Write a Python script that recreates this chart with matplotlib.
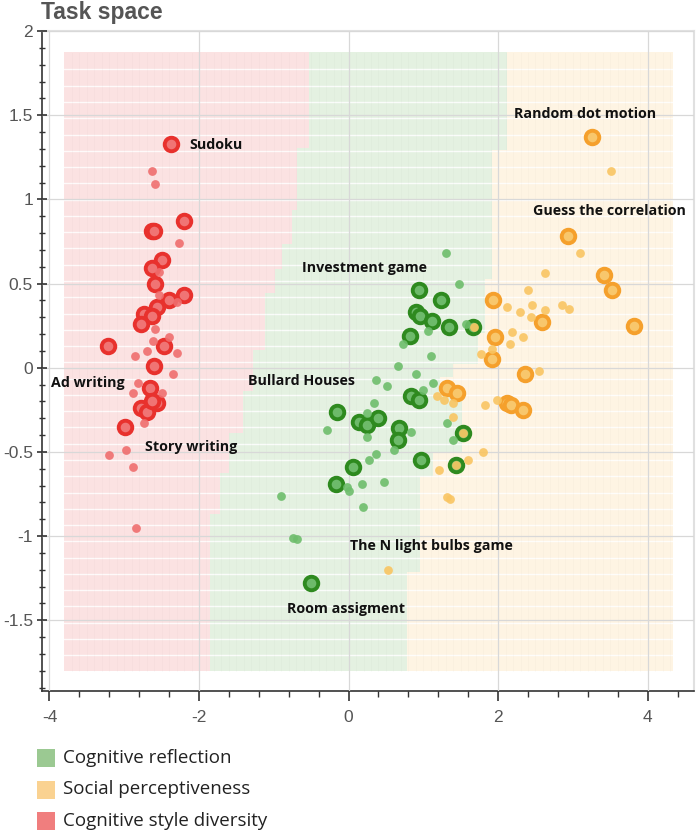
"""Task space scatter over a classification map, three task groups."""

import matplotlib

matplotlib.use("Agg")

import matplotlib.pyplot as plt
import numpy as np
from matplotlib.colors import ListedColormap
from matplotlib.patches import Rectangle
from matplotlib.ticker import FuncFormatter, MultipleLocator

plt.rcParams["axes.unicode_minus"] = False

# --- tasks (big ring markers) and tasks (small dots), by group -------------
RED_BIG_X = [-2.37, -2.20, -2.63, -2.60, -2.50, -2.63, -2.59, -2.20, -2.40, -2.56, -2.73,
             -2.63, -2.77, -3.22, -2.47, -2.60, -2.66, -2.77, -2.70, -2.56, -2.63, -2.99]
RED_BIG_Y = [1.33, 0.87, 0.81, 0.81, 0.64, 0.59, 0.50, 0.43, 0.40, 0.36, 0.32,
             0.31, 0.26, 0.13, 0.13, 0.01, -0.12, -0.24, -0.26, -0.21, -0.20, -0.35]
RED_SMALL_X = [-2.63, -2.59, -2.27, -2.53, -2.54, -2.30, -2.59, -2.40, -2.62, -2.70, -2.29,
               -2.86, -2.35, -2.81, -2.50, -2.88, -2.74, -2.98, -3.21, -2.88, -2.84]
RED_SMALL_Y = [1.17, 1.09, 0.74, 0.57, 0.43, 0.39, 0.23, 0.18, 0.16, 0.10, 0.09,
               0.07, -0.04, -0.09, -0.15, -0.15, -0.33, -0.49, -0.52, -0.59, -0.95]

GREEN_BIG_X = [0.94, 1.24, 0.90, 0.96, 1.12, 1.34, 1.67, 0.82, 0.84, 0.94, -0.16,
               0.14, 0.25, 0.39, 0.68, 0.66, 1.53, 0.97, 0.06, 1.44, -0.17, -0.50]
GREEN_BIG_Y = [0.46, 0.40, 0.33, 0.31, 0.28, 0.24, 0.24, 0.19, -0.17, -0.19, -0.26,
               -0.32, -0.34, -0.30, -0.36, -0.43, -0.39, -0.55, -0.59, -0.58, -0.69, -1.28]
GREEN_SMALL_X = [1.30, 1.48, 1.06, 1.57, 0.73, 1.10, 0.66, 0.90, 0.37, 0.52, 1.13, 1.00,
                 0.34, 0.25, 1.32, -0.29, 0.84, 0.25, 1.40, 0.37, 0.61, 0.27, 0.47, 0.18,
                 -0.02, 0.01, -0.90, 0.19, -0.74, -0.69]
GREEN_SMALL_Y = [0.68, 0.50, 0.22, 0.26, 0.14, 0.07, 0.01, -0.04, -0.07, -0.11, -0.09, -0.13,
                 -0.21, -0.27, -0.33, -0.37, -0.38, -0.41, -0.43, -0.51, -0.49, -0.55, -0.68,
                 -0.69, -0.71, -0.73, -0.76, -0.83, -1.01, -1.02]

ORANGE_BIG_X = [3.26, 2.93, 3.42, 3.52, 1.93, 2.59, 3.82, 1.96, 1.92, 2.36, 1.32, 1.45,
                2.12, 2.17, 2.33]
ORANGE_BIG_Y = [1.37, 0.78, 0.55, 0.46, 0.40, 0.27, 0.25, 0.18, 0.05, -0.04, -0.12, -0.15,
                -0.21, -0.22, -0.25]
ORANGE_SMALL_X = [3.51, 3.10, 2.63, 2.40, 2.12, 2.29, 2.45, 2.63, 2.86, 2.95, 2.44, 2.18,
                  2.33, 2.16, 1.92, 1.77, 2.55, 1.18, 1.27, 1.40, 1.40, 1.98, 1.83, 1.80,
                  1.60, 1.21, 1.32, 1.36, 0.53, 1.68, 1.53, 1.44]
ORANGE_SMALL_Y = [1.17, 0.68, 0.56, 0.46, 0.36, 0.33, 0.37, 0.34, 0.37, 0.35, 0.30, 0.21,
                  0.18, 0.14, 0.11, 0.08, -0.02, -0.17, -0.19, -0.21, -0.29, -0.19, -0.22,
                  -0.50, -0.55, -0.61, -0.77, -0.78, -1.20, 0.24, -0.39, -0.58]

# --- labelled tasks ---------------------------------------------------------
LABELS = ["Sudoku", "Random dot motion", "Guess the correlation", "Investment game",
          "Ad writing", "Bullard Houses", "Story writing", "The N light bulbs game",
          "Room assigment"]
LABEL_X = [-2.13, 2.21, 2.47, -0.62, -3.98, -1.35, -2.72, 0.02, -0.82]
LABEL_Y = [1.32, 1.51, 0.93, 0.59, -0.09, -0.08, -0.47, -1.06, -1.43]

# --- background decision regions (band lower edge -> boundary x) ------------
BG_EXTENT = [-3.80, 4.34, -1.804, 1.868]
RG_Y_LOW = [1.30, 0.93, 0.73, 0.58, 0.44, 0.10, -0.14, -0.39, -0.63, -0.87, -1.90]
RG_X = [-0.52, -0.68, -0.75, -0.88, -0.98, -1.12, -1.27, -1.41, -1.59, -1.72, -1.85]
GO_Y_LOW = [1.29, 0.52, 0.20, 0.02, -0.06, -0.15, -0.51, -0.65, -1.22, -1.90]
GO_X = [2.12, 1.92, 1.83, 1.73, 1.40, 1.22, 1.52, 1.13, 0.96, 0.78]
N_ROWS = 38

LEGEND_NAMES = ["Cognitive reflection", "Social perceptiveness", "Cognitive style diversity"]
LEGEND_COLORS = ["#9BC992", "#FAD291", "#F07E7E"]

BG_COLORS = ["#FBE2E2", "#E4F1E1", "#FEF4E3"]
GROUPS = {
    "red": dict(edge="#E8312D", face="#F07474", small="#EF6E6E"),
    "green": dict(edge="#2E8A1F", face="#6DBA6A", small="#6DBD6B"),
    "orange": dict(edge="#F5A02C", face="#F8C76C", small="#F9C562"),
}


def _band_value(y, lows, values):
    for low, val in zip(lows, values):
        if y >= low:
            return val
    return values[-1]


def _draw_background(ax):
    x0, x1, y0, y1 = BG_EXTENT
    xs = np.arange(x0, x1, 0.005) + 0.0025
    ys = np.arange(y0, y1, 0.005) + 0.0025
    grid = np.zeros((len(ys), len(xs)))
    for i, y in enumerate(ys):
        rg = _band_value(y, RG_Y_LOW, RG_X)
        go = _band_value(y, GO_Y_LOW, GO_X)
        grid[i, xs >= rg] = 1
        grid[i, xs >= go] = 2
    ax.imshow(grid, cmap=ListedColormap(BG_COLORS), extent=BG_EXTENT, origin="lower",
              aspect="auto", interpolation="nearest", zorder=0.5, vmin=0, vmax=2)
    row_h = (y1 - y0) / N_ROWS
    for k in range(1, N_ROWS):
        ax.plot([x0, x1], [y1 - k * row_h] * 2, color="white", lw=1.0, alpha=0.85, zorder=0.6)
    for xv in np.arange(x0 + 0.1, x1, 0.1):
        ax.plot([xv, xv], [y0, y1], color="#000000", lw=0.5, alpha=0.025, zorder=0.6)


def _scatter_group(ax, big_x, big_y, small_x, small_y, style):
    ax.scatter(big_x, big_y, s=95, facecolor=style["face"], edgecolor=style["edge"],
               linewidth=2.8, zorder=3)
    ax.scatter(small_x, small_y, s=40, color=style["small"], linewidth=0, alpha=0.9, zorder=4)


def main():
    fig = plt.figure(figsize=(6.98, 8.36), dpi=100)
    ax = fig.add_axes([42 / 698, 1 - 691 / 836, 652 / 698, 660 / 836])

    _draw_background(ax)
    _scatter_group(ax, RED_BIG_X, RED_BIG_Y, RED_SMALL_X, RED_SMALL_Y, GROUPS["red"])
    _scatter_group(ax, GREEN_BIG_X, GREEN_BIG_Y, GREEN_SMALL_X, GREEN_SMALL_Y, GROUPS["green"])
    _scatter_group(ax, ORANGE_BIG_X, ORANGE_BIG_Y, ORANGE_SMALL_X, ORANGE_SMALL_Y,
                   GROUPS["orange"])

    for name, lx, ly in zip(LABELS, LABEL_X, LABEL_Y):
        ax.text(lx, ly, name, ha="left", va="center", fontsize=10.3, fontweight="bold",
                family="Open Sans", color="#111111", zorder=5)

    ax.set_xlim(-4.1, 4.62)
    ax.set_ylim(-1.92, 2.0)
    ax.xaxis.set_major_locator(MultipleLocator(2))
    ax.xaxis.set_minor_locator(MultipleLocator(0.4))
    ax.yaxis.set_major_locator(MultipleLocator(0.5))
    ax.yaxis.set_minor_locator(MultipleLocator(0.1))
    fmt = FuncFormatter(lambda v, _: f"{v:g}")
    ax.xaxis.set_major_formatter(fmt)
    ax.yaxis.set_major_formatter(fmt)
    ax.tick_params(which="major", length=7, width=1.2, color="#333333", labelsize=12.5,
                   labelcolor="#555555")
    ax.tick_params(axis="x", which="major", pad=7)
    ax.tick_params(axis="y", which="both", direction="inout", pad=3)
    ax.tick_params(which="minor", length=4, width=1.0, color="#333333")
    for lab in ax.get_xticklabels() + ax.get_yticklabels():
        lab.set_family("Liberation Sans")

    ax.set_axisbelow(False)
    ax.grid(which="major", color="#D8D8D8", lw=0.9, zorder=1)
    for side in ("left", "bottom"):
        ax.spines[side].set_color("#333333")
        ax.spines[side].set_linewidth(1.2)
    for side in ("top", "right"):
        ax.spines[side].set_color("#E0E0E0")
        ax.spines[side].set_linewidth(1.5)

    fig.text(41 / 698, 1 - 12 / 836, "Task space", ha="left", va="center", fontsize=16.5,
             fontweight="bold", color="#555555", family="Liberation Sans")

    for i, (name, col) in enumerate(zip(LEGEND_NAMES, LEGEND_COLORS)):
        yc = 758 + i * 31.5
        fig.patches.append(Rectangle((37 / 698, 1 - (yc + 9) / 836), 18 / 698, 18 / 836,
                                     transform=fig.transFigure, facecolor=col,
                                     edgecolor="none"))
        fig.text(63 / 698, 1 - yc / 836, name, ha="left", va="center", fontsize=13.5,
                 color="#222222", family="Open Sans")

    fig.savefig("out.png", dpi=100)
    plt.close(fig)


if __name__ == "__main__":
    main()
